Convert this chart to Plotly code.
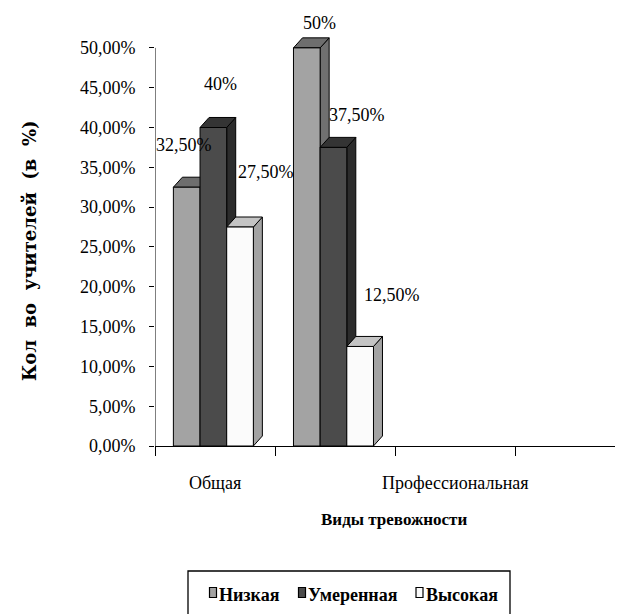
import plotly.graph_objects as go

# --- data -------------------------------------------------------------
categories = ["Общая", "Профессиональная"]
series_names = ["Низкая", "Умеренная", "Высокая"]
low = [32.5, 50.0]        # Низкая
moderate = [40.0, 37.5]   # Умеренная
high = [27.5, 12.5]       # Высокая
y_ticks = [0, 5, 10, 15, 20, 25, 30, 35, 40, 45, 50]

# --- styling ----------------------------------------------------------
FONT = "Liberation Serif, Times New Roman, serif"
face_colors = {  # front, top, side
    "Низкая": ("#a3a3a3", "#6e6e6e", "#707070"),
    "Умеренная": ("#4b4b4b", "#343434", "#2c2c2c"),
    "Высокая": ("#fbfbfb", "#c4c4c4", "#a3a3a3"),
}
GROUP_LEFT = 0.153   # left edge of first bar inside a category slot
BAR_W = 0.222        # bar width in slot units
DX = 0.075           # depth offset, x (slot units)
DY = 1.26            # depth offset, y (percent units)

# label offsets (px) relative to the front-top centre of each bar
label_dx = [[-2.5, 7, 25.7], [12.4, 24, 32]]
label_dy = [[42.6, 44, 55], [25, 32.5, 51]]

# plot-area geometry in pixels (used to place paper-referenced items)
L, R, T, B = 155, 9, 24, 168
W, H = 624, 614
PW, PH = W - L - R, H - T - B


def px(xp):
    return (xp - L) / PW


def py(yp):
    return (H - B - yp) / PH


series_vals = [low, moderate, high]

fig = go.Figure()


def poly(xs, ys, color):
    fig.add_trace(go.Scatter(
        x=xs + [xs[0]], y=ys + [ys[0]], mode="lines", fill="toself",
        fillcolor=color, line=dict(color="black", width=1),
        hoverinfo="skip", showlegend=False))


def fmt(v):
    if float(v).is_integer():
        return f"{int(v)}%"
    return f"{v:.2f}".replace(".", ",") + "%"


annotations = []
shapes = []
for g, cat in enumerate(categories):
    for s, name in enumerate(series_names):
        v = series_vals[s][g]
        front, top, side = face_colors[name]
        x0 = g + GROUP_LEFT + s * BAR_W
        x1 = x0 + BAR_W
        # side face
        poly([x1, x1 + DX, x1 + DX, x1], [0, DY, v + DY, v], side)
        # top face
        poly([x0, x0 + DX, x1 + DX, x1], [v, v + DY, v + DY, v], top)
        # front face
        poly([x0, x1, x1, x0], [0, 0, v, v], front)
        annotations.append(dict(
            x=(x0 + x1) / 2, y=v, xref="x", yref="y", text=fmt(v),
            showarrow=False, xshift=label_dx[g][s], yshift=label_dy[g][s],
            font=dict(family=FONT, size=18, color="black")))

# legend: framed box with a swatch and a bold name per series
shapes.append(dict(type="rect", xref="paper", yref="paper",
                   x0=px(188), x1=px(510), y0=py(622), y1=py(571),
                   line=dict(color="black", width=1.3), fillcolor="white",
                   layer="above"))
swatch_x = [213, 302, 419.5]
for name, sx in zip(series_names, swatch_x):
    shapes.append(dict(type="rect", xref="paper", yref="paper",
                       x0=px(sx - 3.5), x1=px(sx + 3.5),
                       y0=py(597.5), y1=py(587.5),
                       fillcolor=face_colors[name][0],
                       line=dict(color="black", width=1.2), layer="above"))
    annotations.append(dict(
        x=px(sx + 4), y=py(595), xref="paper", yref="paper",
        xanchor="left", yanchor="middle", text=f"<b>{name}</b>",
        showarrow=False, font=dict(family=FONT, size=18, color="black")))

# axis titles
annotations.append(dict(
    x=px(394), y=py(519), xref="paper", yref="paper",
    xanchor="center", yanchor="middle",
    text="<b>Виды тревожности</b>", showarrow=False,
    font=dict(family=FONT, size=17, color="black")))
annotations.append(dict(
    x=px(30), y=py(251), xref="paper", yref="paper",
    xanchor="center", yanchor="middle",
    text="<b>Кол\u00a0 во\u00a0 учителей\u00a0 (в\u00a0 %)</b>", showarrow=False,
    textangle=-90,
    font=dict(family="DejaVu Serif, serif", size=18, color="black")))

# value axis line stops at the top tick
shapes.append(dict(type="line", xref="x", yref="y", x0=0, x1=0, y0=0, y1=50,
                   line=dict(color="black", width=1)))

fig.update_layout(
    width=W, height=H,
    margin=dict(l=L, r=R, t=T, b=B, autoexpand=False),
    paper_bgcolor="white", plot_bgcolor="white",
    font=dict(family=FONT, size=18, color="black"),
    annotations=annotations,
    shapes=shapes,
    showlegend=False,
    xaxis=dict(
        range=[0, 3.83], showgrid=False, zeroline=False,
        showline=True, linecolor="black", linewidth=1,
        tickmode="array", tickvals=[0.5, 2.5], ticktext=categories,
        ticks="", ticklabelstandoff=20,
        tickfont=dict(family=FONT, size=18, color="black"),
        minor=dict(tickmode="array", tickvals=[0, 1, 2, 3], ticks="outside",
                   ticklen=9, tickcolor="black", showgrid=False),
        fixedrange=True),
    yaxis=dict(
        range=[0, 53], showgrid=False, zeroline=False, showline=False,
        tickmode="array", tickvals=y_ticks,
        ticktext=[f"{t:.2f}".replace(".", ",") + "%" for t in y_ticks],
        ticks="outside", ticklen=5, tickcolor="black", ticklabelstandoff=10,
        tickfont=dict(family=FONT, size=18, color="black"),
        fixedrange=True),
)

fig.write_html("out.html")
